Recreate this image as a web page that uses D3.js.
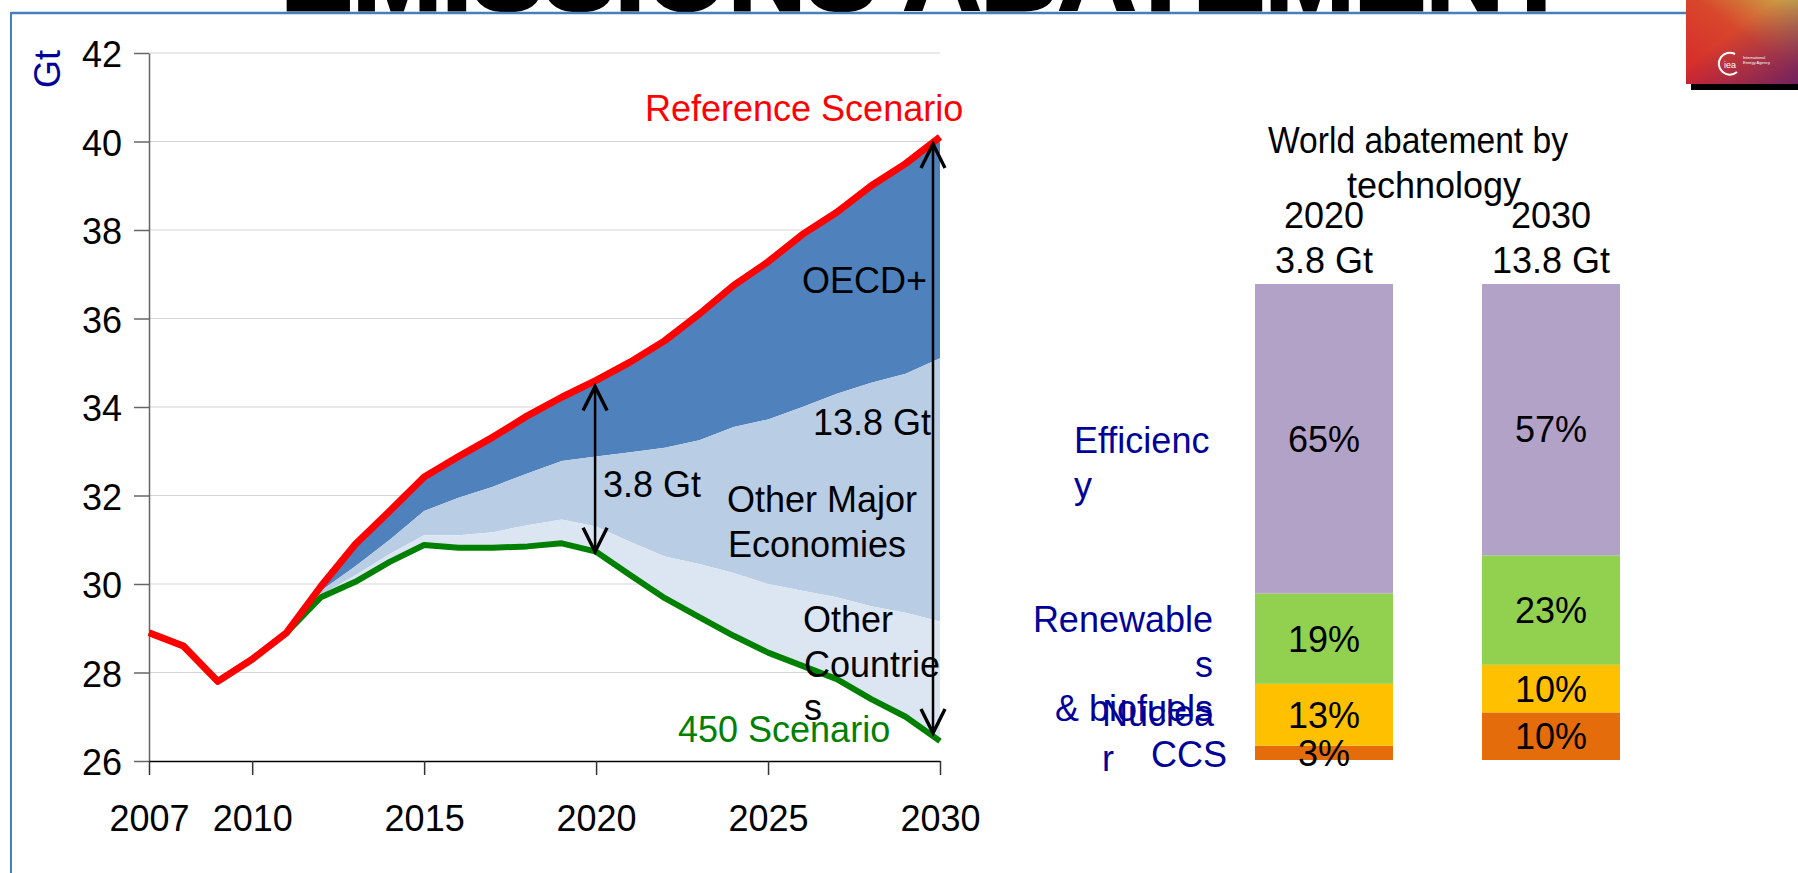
<!DOCTYPE html>
<html>
<head>
<meta charset="utf-8">
<script src="https://cdn.jsdelivr.net/npm/d3@7/dist/d3.min.js"></script>
<style>
  html, body { margin: 0; padding: 0; background: #fff; }
  svg { display: block; font-family: "Liberation Sans", Arial, sans-serif; }
</style>
</head>
<body>
<svg id="chart" width="1798" height="873"></svg>
<script>
// --- data ---
const years = [2007, 2008, 2009, 2010, 2011, 2012, 2013, 2014, 2015, 2016, 2017, 2018,
               2019, 2020, 2021, 2022, 2023, 2024, 2025, 2026, 2027, 2028, 2029, 2030];
const referenceScenario = [28.9, 28.6, 27.8, 28.3, 28.9, 29.95, 30.9, 31.65, 32.42, 32.88, 33.32, 33.8,
                           34.22, 34.6, 35.02, 35.5, 36.1, 36.75, 37.28, 37.9, 38.4, 39.0, 39.5, 40.1];
const scenario450 = [28.9, 28.6, 27.8, 28.3, 28.9, 29.7, 30.05, 30.5, 30.88, 30.82, 30.82, 30.85,
                     30.92, 30.73, 30.2, 29.68, 29.25, 28.83, 28.45, 28.15, 27.85, 27.4, 27.0, 26.45];
// lower edge of the OECD+ band and of the Other Major Economies band
const oecdFloor = [null, null, null, null, 28.9, 29.85, 30.4, 31.0, 31.65, 31.95, 32.2, 32.5,
                   32.78, 32.88, 32.98, 33.08, 33.25, 33.55, 33.72, 34.0, 34.3, 34.55, 34.75, 35.1];
const majorFloor = [null, null, null, null, 28.9, 29.75, 30.2, 30.68, 31.1, 31.1, 31.17, 31.33,
                    31.46, 31.3, 30.95, 30.62, 30.45, 30.25, 30.0, 29.85, 29.7, 29.5, 29.35, 29.15];

const yTicks = [26, 28, 30, 32, 34, 36, 38, 40, 42];
const xTicks = [2007, 2010, 2015, 2020, 2025, 2030];
const gapYears = [2020, 2030];
const gapLabels = ["3.8 Gt", "13.8 Gt"];

// right panel
const barYears = ["2020", "2030"];
const barTotals = ["3.8 Gt", "13.8 Gt"];
const techNames = ["Efficiency", "Renewables & biofuels", "Nuclear", "CCS"];
const techLabelLines = [["Efficienc", "y"], ["Renewable", "s", "& biofuels"], ["Nuclea", "r"], ["CCS"]];
const share2020 = [65, 19, 13, 3];
const share2030 = [57, 23, 10, 10];
const techColors = ["#B2A2C7", "#92D050", "#FFC000", "#E46C0A"];

const svg = d3.select("#chart");
const FS = 36;

// --- header: frame, cut-off title, logo ---
svg.append("text")
  .attr("x", 281).attr("y", 10)
  .attr("font-size", 105).attr("font-weight", "bold")
  .attr("textLength", 1288).attr("lengthAdjust", "spacingAndGlyphs")
  .attr("stroke", "#000").attr("stroke-width", 3)
  .text("EMISSIONS ABATEMENT");

svg.append("line").attr("x1", 11).attr("x2", 1686).attr("y1", 13).attr("y2", 13)
  .attr("stroke", "#4A7EBB").attr("stroke-width", 2.5);
svg.append("line").attr("x1", 11).attr("x2", 11).attr("y1", 12).attr("y2", 873)
  .attr("stroke", "#4A7EBB").attr("stroke-width", 2);

const defs = svg.append("defs");
const g1 = defs.append("linearGradient").attr("id", "logoA")
  .attr("x1", "0%").attr("y1", "100%").attr("x2", "100%").attr("y2", "0%");
g1.append("stop").attr("offset", "0%").attr("stop-color", "#D6262B");
g1.append("stop").attr("offset", "55%").attr("stop-color", "#D8472C");
g1.append("stop").attr("offset", "100%").attr("stop-color", "#C9B048");
const g2 = defs.append("linearGradient").attr("id", "logoB")
  .attr("x1", "40%").attr("y1", "40%").attr("x2", "100%").attr("y2", "100%");
g2.append("stop").attr("offset", "0%").attr("stop-color", "#6B1F63").attr("stop-opacity", 0);
g2.append("stop").attr("offset", "100%").attr("stop-color", "#6B1F63").attr("stop-opacity", 0.95);

const logo = svg.append("g");
logo.append("rect").attr("x", 1691).attr("y", 84).attr("width", 107).attr("height", 6).attr("fill", "#000");
logo.append("rect").attr("x", 1686).attr("y", 0).attr("width", 112).attr("height", 84).attr("fill", "url(#logoA)");
logo.append("rect").attr("x", 1686).attr("y", 0).attr("width", 112).attr("height", 84).attr("fill", "url(#logoB)");
logo.append("path").attr("d", "M1735,54 A11,11 0 1,0 1737,72")
  .attr("fill", "none").attr("stroke", "#fff").attr("stroke-width", 2);
logo.append("text").attr("x", 1730).attr("y", 68).attr("font-size", 9).attr("fill", "#fff")
  .attr("text-anchor", "middle").text("iea");
logo.append("text").attr("x", 1743).attr("y", 59).attr("font-size", 4).attr("fill", "#fff").text("International");
logo.append("text").attr("x", 1743).attr("y", 64).attr("font-size", 4).attr("fill", "#fff").text("Energy Agency");

// --- left chart ---
const x = d3.scaleLinear().domain([2007, 2030]).range([149, 940]);
const y = d3.scaleLinear().domain([26, 42]).range([761, 53]);

const rows = years.map((yr, i) => ({
  year: yr, ref: referenceScenario[i], s450: scenario450[i], oecd: oecdFloor[i], major: majorFloor[i]
}));

svg.append("g").selectAll("line")
  .data(yTicks.filter(v => v > 26))
  .join("line")
  .attr("x1", x(2007)).attr("x2", x(2030))
  .attr("y1", d => y(d)).attr("y2", d => y(d))
  .attr("stroke", "#D4D4D4").attr("stroke-width", 1);

const bands = [
  { top: "ref", bottom: "oecd", color: "#4F81BD" },
  { top: "oecd", bottom: "major", color: "#B9CDE5" },
  { top: "major", bottom: "s450", color: "#DCE6F2" }
];
bands.forEach(b => {
  const area = d3.area()
    .defined(d => d.oecd != null)
    .x(d => x(d.year))
    .y0(d => y(d[b.bottom]))
    .y1(d => y(d[b.top]));
  svg.append("path").datum(rows).attr("d", area).attr("fill", b.color);
});

const yAxis = svg.append("g").attr("transform", `translate(${x(2007)},0)`)
  .call(d3.axisLeft(y).tickValues(yTicks).tickSize(15).tickPadding(12).tickSizeOuter(0));
yAxis.select(".domain").attr("stroke", "#666").attr("stroke-width", 1.5);
yAxis.selectAll(".tick line").attr("stroke", "#666").attr("stroke-width", 1.5);
yAxis.selectAll("text").attr("font-size", FS).attr("font-family", "Liberation Sans, Arial, sans-serif")
  .attr("fill", "#000").attr("dy", "0.38em");

const xAxis = svg.append("g").attr("transform", `translate(0,${y(26)})`)
  .call(d3.axisBottom(x).tickValues(xTicks).tickFormat(d3.format("d")).tickSize(14).tickPadding(30).tickSizeOuter(0));
xAxis.select(".domain").attr("stroke", "#000").attr("stroke-width", 1.5);
xAxis.selectAll(".tick line").attr("stroke", "#333").attr("stroke-width", 1.5);
xAxis.selectAll("text").attr("font-size", FS).attr("font-family", "Liberation Sans, Arial, sans-serif")
  .attr("fill", "#000");

const line = key => d3.line().x(d => x(d.year)).y(d => y(d[key]));
svg.append("path").datum(rows).attr("d", line("s450"))
  .attr("fill", "none").attr("stroke", "#008000").attr("stroke-width", 6).attr("stroke-linejoin", "round");
svg.append("path").datum(rows).attr("d", line("ref"))
  .attr("fill", "none").attr("stroke", "#FF0000").attr("stroke-width", 7).attr("stroke-linejoin", "round");

// axis title
svg.append("text").attr("transform", "translate(60,69) rotate(-90)")
  .attr("text-anchor", "middle").attr("font-size", FS).attr("fill", "#000099").text("Gt");

// annotations
const notes = [
  { t: "Reference Scenario", x: 645, y: 121, c: "#FF0000" },
  { t: "OECD+", x: 802, y: 293 },
  { t: gapLabels[1], x: 813, y: 435 },
  { t: gapLabels[0], x: 603, y: 497 },
  { t: "Other Major", x: 727, y: 512 },
  { t: "Economies", x: 728, y: 557 },
  { t: "Other", x: 803, y: 632 },
  { t: "Countrie", x: 804, y: 677 },
  { t: "s", x: 804, y: 720 },
  { t: "450 Scenario", x: 678, y: 742, c: "#008000" }
];
svg.append("g").selectAll("text").data(notes).join("text")
  .attr("x", d => d.x).attr("y", d => d.y)
  .attr("font-size", FS).attr("fill", d => d.c || "#000")
  .text(d => d.t);

// double arrows for the gap between scenarios
const arrowSpec = [{ dx: -1, top: 6, bot: 0 }, { dx: -7, top: 7, bot: 8 }];
gapYears.forEach((yr, k) => {
  const i = years.indexOf(yr);
  const ax = x(yr) + arrowSpec[k].dx;
  const yTop = y(referenceScenario[i]) + arrowSpec[k].top;
  const yBot = y(scenario450[i]) - arrowSpec[k].bot;
  const g = svg.append("g").attr("stroke", "#000").attr("fill", "none");
  g.append("line").attr("x1", ax).attr("x2", ax).attr("y1", yTop + 2).attr("y2", yBot - 2).attr("stroke-width", 2.5);
  g.append("path").attr("d", `M${ax - 12},${yTop + 24} L${ax},${yTop} L${ax + 12},${yTop + 24}`).attr("stroke-width", 3.4);
  g.append("path").attr("d", `M${ax - 12},${yBot - 24} L${ax},${yBot} L${ax + 12},${yBot - 24}`).attr("stroke-width", 3.4);
});

// --- right panel: world abatement by technology ---
const bx = d3.scalePoint().domain(barYears).range([1324, 1551]);
const barW = 138;
const py = d3.scaleLinear().domain([0, 100]).range([760, 284]);

svg.append("text").attr("x", 1268).attr("y", 153)
  .attr("textLength", 300).attr("lengthAdjust", "spacingAndGlyphs")
  .attr("font-size", FS).text("World abatement by");
svg.append("text").attr("x", 1434).attr("y", 198).attr("text-anchor", "middle")
  .attr("font-size", FS).text("technology");

barYears.forEach((yr, j) => {
  svg.append("text").attr("x", bx(yr)).attr("y", 228).attr("text-anchor", "middle")
    .attr("font-size", FS).text(yr);
  svg.append("text").attr("x", bx(yr)).attr("y", 273).attr("text-anchor", "middle")
    .attr("font-size", FS).text(barTotals[j]);
});

const shareRows = barYears.map((yr, j) => {
  const s = j === 0 ? share2020 : share2030;
  const r = { year: yr };
  techNames.forEach((n, k) => { r[n] = s[k]; });
  return r;
});
const stack = d3.stack().keys(techNames.slice().reverse());
const series = stack(shareRows);

series.forEach(sr => {
  const k = techNames.indexOf(sr.key);
  const g = svg.append("g");
  g.selectAll("rect").data(sr).join("rect")
    .attr("x", d => bx(d.data.year) - barW / 2)
    .attr("width", barW)
    .attr("y", d => py(d[1]))
    .attr("height", d => py(d[0]) - py(d[1]))
    .attr("fill", techColors[k]);
});
series.forEach(sr => {
  svg.append("g").selectAll("text").data(sr).join("text")
    .attr("x", d => bx(d.data.year))
    .attr("y", d => (py(d[0]) + py(d[1])) / 2 + (d[1] === 100 && d.data.year === "2030" ? 22 : 13))
    .attr("text-anchor", "middle").attr("font-size", FS)
    .text(d => (d[1] - d[0]) + "%");
});

// category labels (wrapped the way the original text boxes are)
const techLabelPos = [
  { x: 1074, y: 453, anchor: "start" },
  { x: 1213, y: 632, anchor: "end" },
  { x: 1102, y: 726, anchor: "start" },
  { x: 1151, y: 767, anchor: "start" }
];
techLabelLines.forEach((lines, k) => {
  const p = techLabelPos[k];
  const t = svg.append("text").attr("font-size", FS).attr("fill", "#000099").attr("text-anchor", p.anchor);
  lines.forEach((ln, m) => {
    t.append("tspan").attr("x", p.x).attr("y", p.y + m * 44.5).text(ln);
  });
});
</script>
</body>
</html>
